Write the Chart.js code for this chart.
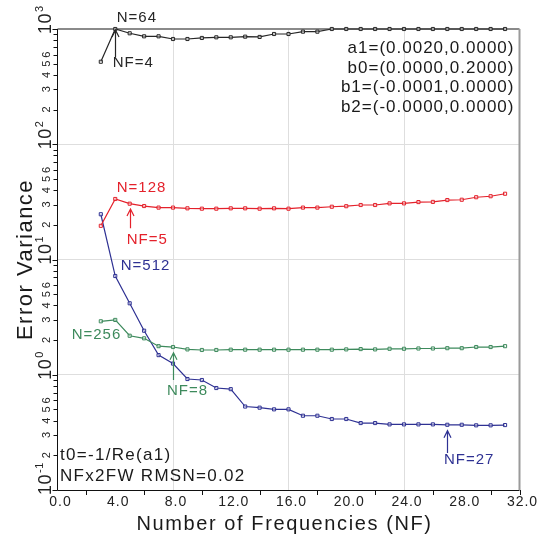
<!DOCTYPE html>
<html>
<head>
<meta charset="utf-8">
<script src="https://cdn.jsdelivr.net/npm/chart.js@4.4.0/dist/chart.umd.min.js"></script>
<style>
  html, body { margin: 0; padding: 0; background: #fff; }
  canvas { display: block; }
</style>
</head>
<body>
<canvas id="errChart" width="551" height="538"></canvas>
<script>
// Number of frequencies on the x axis
const nfValues = [3, 4, 5, 6, 7, 8, 9, 10, 11, 12, 13, 14, 15, 16, 17, 18, 19, 20, 21, 22, 23, 24, 25, 26, 27, 28, 29, 30, 31];

// Error variance for each record length N
const errN64 = [520, 1000, 918, 864, 864, 819, 819, 836, 847, 847, 858, 853, 905, 905, 948, 948, 1000, 1000, 1000, 1000, 1000, 1000, 1000, 1000, 1000, 1000, 1000, 1000, 1000];
const errN128 = [19.6, 33.5, 30.5, 29.1, 28.2, 28.2, 27.8, 27.6, 27.6, 27.8, 27.8, 27.6, 27.8, 27.6, 28.2, 28.2, 28.7, 29.0, 29.7, 29.7, 30.7, 30.7, 31.5, 31.6, 32.8, 33.0, 34.7, 35.4, 37.2];
const errN256 = [2.91, 2.99, 2.18, 2.07, 1.77, 1.74, 1.66, 1.64, 1.64, 1.65, 1.65, 1.65, 1.65, 1.65, 1.65, 1.65, 1.65, 1.66, 1.67, 1.66, 1.68, 1.68, 1.69, 1.69, 1.70, 1.70, 1.74, 1.74, 1.77];
const errN512 = [24.7, 7.19, 4.17, 2.41, 1.48, 1.25, 0.918, 0.90, 0.767, 0.75, 0.53, 0.518, 0.501, 0.501, 0.441, 0.441, 0.413, 0.413, 0.381, 0.381, 0.371, 0.371, 0.371, 0.371, 0.368, 0.368, 0.364, 0.364, 0.366];

// Axis ticks
const xTickLabels = [0, 4, 8, 12, 16, 20, 24, 28, 32];
const xMinorTicks = [2, 6, 10, 14, 18, 22, 26, 30, 32];
const xGridValues = [8, 16, 24];
const yDecades = [-1, 0, 1, 2, 3];
const yMinorLabels = [2, 3, 4, 5, 6];

// Text on the plot
const paramLines = ["a1=(0.0020,0.0000)", "b0=(0.0000,0.2000)", "b1=(-0.0001,0.0000)", "b2=(-0.0000,0.0000)"];
const footLines = ["t0=-1/Re(a1)", "NFx2FW RMSN=0.02"];

const RED = "#e4212b";
const BLUE = "#2e3193";
const GREEN = "#3d8a5c";
const BLACK = "#262626";

const toXY = (vals) => vals.map((v, i) => ({ x: nfValues[i], y: v }));

const series = (label, vals, color) => ({
  label: label,
  data: toXY(vals),
  borderColor: color,
  borderWidth: 1.2,
  pointStyle: "rect",
  pointRadius: 2.2,
  pointBorderWidth: 1,
  pointBorderColor: color,
  pointBackgroundColor: "rgba(255,255,255,0.45)",
  tension: 0,
  clip: 6,
});

// notes: [text, nf, value, color]
const notes = [
  ["N=64", 4.1, 1245, BLACK],
  ["NF=4", 3.82, 507, BLACK],
  ["N=128", 4.1, 41.7, RED],
  ["NF=5", 4.79, 14.8, RED],
  ["N=512", 4.38, 8.83, BLUE],
  ["N=256", 0.98, 2.21, GREEN],
  ["NF=8", 7.58, 0.723, GREEN],
  ["NF=27", 26.77, 0.182, BLUE],
];
// arrows: [nf, from value, to value, color]
const arrows = [
  [4, 572, 980, BLACK],
  [5, 18.7, 27.4, RED],
  [8, 0.90, 1.55, GREEN],
  [27, 0.209, 0.327, BLUE],
];
const paramValues = [684, 459, 314, 210];
const footValues = [0.201, 0.132];

const FONT = "'Liberation Sans', Arial, sans-serif";

function drawText(ctx, s, x, y, size, color, align, spacing) {
  ctx.save();
  ctx.font = size + "px " + FONT;
  ctx.fillStyle = color;
  ctx.textAlign = align;
  ctx.textBaseline = "middle";
  ctx.letterSpacing = spacing + "px";
  ctx.fillText(s, x, y);
  ctx.restore();
}

const framePlugin = {
  id: "frame",
  beforeDatasetsDraw(chart) {
    const { ctx, chartArea: a } = chart;
    ctx.save();
    ctx.strokeStyle = "#8a8a8a";
    ctx.lineWidth = 2;
    ctx.beginPath();
    ctx.moveTo(a.left, a.top);
    ctx.lineTo(a.right, a.top);
    ctx.stroke();
    ctx.strokeStyle = "#9a9a9a";
    ctx.beginPath();
    ctx.moveTo(a.right, a.top);
    ctx.lineTo(a.right, a.bottom);
    ctx.stroke();
    ctx.restore();
  },
  afterDraw(chart) {
    const { ctx, chartArea: a } = chart;
    const xs = chart.scales.x;
    const ys = chart.scales.y;
    ctx.save();
    ctx.strokeStyle = "#111";
    ctx.lineWidth = 1;

    // left and bottom axes
    ctx.beginPath();
    ctx.moveTo(a.left, a.top);
    ctx.lineTo(a.left, a.bottom + 0.5);
    ctx.lineTo(a.right, a.bottom + 0.5);
    ctx.stroke();

    // x ticks and labels
    ctx.beginPath();
    xMinorTicks.forEach((v) => {
      const x = Math.round(xs.getPixelForValue(v)) + 0.5;
      ctx.moveTo(x, a.bottom);
      ctx.lineTo(x, a.bottom + 5);
    });
    ctx.stroke();
    xTickLabels.forEach((v) => {
      drawText(ctx, v.toFixed(1), xs.getPixelForValue(v) + 3, a.bottom + 12, 14, "#222", "center", 1);
    });

    // y ticks
    ctx.beginPath();
    yDecades.forEach((k) => {
      const y = Math.round(ys.getPixelForValue(Math.pow(10, k))) + 0.5;
      ctx.moveTo(a.left - 5, y);
      ctx.lineTo(a.left, y);
      if (k < 3) {
        for (let m = 2; m <= 9; m++) {
          const ym = Math.round(ys.getPixelForValue(m * Math.pow(10, k))) + 0.5;
          ctx.moveTo(a.left - 4, ym);
          ctx.lineTo(a.left, ym);
        }
      }
    });
    ctx.stroke();

    // y labels, rotated
    ctx.fillStyle = "#222";
    yDecades.forEach((k) => {
      const y = ys.getPixelForValue(Math.pow(10, k));
      ctx.save();
      ctx.translate(a.left - 6.5, y);
      ctx.rotate(-Math.PI / 2);
      ctx.textAlign = "left";
      ctx.textBaseline = "alphabetic";
      ctx.font = "18px " + FONT;
      ctx.letterSpacing = "0.5px";
      ctx.fillText("10", -5, 0);
      const w = ctx.measureText("10").width;
      ctx.font = "11px " + FONT;
      ctx.fillText(String(k), -5 + w + 1, -8);
      ctx.restore();
      if (k < 3) {
        yMinorLabels.forEach((m) => {
          const ym = ys.getPixelForValue(m * Math.pow(10, k));
          ctx.save();
          ctx.translate(a.left - 7.5, ym);
          ctx.rotate(-Math.PI / 2);
          ctx.textAlign = "center";
          ctx.textBaseline = "alphabetic";
          ctx.font = "11px " + FONT;
          ctx.fillText(String(m), 0, 0);
          ctx.restore();
        });
      }
    });

    // axis titles
    drawText(ctx, "Number of Frequencies (NF)", (a.left + a.right) / 2 - 4, a.bottom + 34, 20, "#1a1a1a", "center", 1.6);
    ctx.save();
    ctx.translate(26, (a.top + a.bottom) / 2);
    ctx.rotate(-Math.PI / 2);
    drawText(ctx, "Error Variance", 0, 0, 22, "#1a1a1a", "center", 1.5);
    ctx.restore();

    // arrows
    arrows.forEach(([nf, v0, v1, color]) => {
      const x = Math.round(xs.getPixelForValue(nf)) + 0.5;
      const y0 = ys.getPixelForValue(v0);
      const y1 = ys.getPixelForValue(v1);
      ctx.save();
      ctx.strokeStyle = color;
      ctx.lineWidth = 1.2;
      ctx.beginPath();
      ctx.moveTo(x, y0);
      ctx.lineTo(x, y1);
      ctx.moveTo(x - 3.5, y1 + 7);
      ctx.lineTo(x, y1);
      ctx.lineTo(x + 3.5, y1 + 7);
      ctx.stroke();
      ctx.restore();
    });

    // notes
    notes.forEach(([s, nf, v, color]) => {
      drawText(ctx, s, xs.getPixelForValue(nf), ys.getPixelForValue(v), 15, color, "left", 1);
    });
    paramLines.forEach((s, i) => {
      drawText(ctx, s, xs.getPixelForValue(31.65), ys.getPixelForValue(paramValues[i]), 17, "#1a1a1a", "right", 1);
    });
    footLines.forEach((s, i) => {
      drawText(ctx, s, xs.getPixelForValue(0.17), ys.getPixelForValue(footValues[i]), 17, "#1a1a1a", "left", 1.3);
    });
    ctx.restore();
  },
};

const ctx = document.getElementById("errChart").getContext("2d");
new Chart(ctx, {
  type: "line",
  data: {
    datasets: [
      series("N=64", errN64, BLACK),
      series("N=128", errN128, RED),
      series("N=256", errN256, GREEN),
      series("N=512", errN512, BLUE),
    ],
  },
  options: {
    responsive: false,
    animation: false,
    devicePixelRatio: 1,
    layout: { padding: { left: 57.5, top: 29, right: 31.5, bottom: 48 } },
    plugins: { legend: { display: false }, tooltip: { enabled: false } },
    scales: {
      x: {
        type: "linear",
        min: 0,
        max: 32,
        afterBuildTicks: (scale) => {
          scale.ticks = xGridValues.map((v) => ({ value: v }));
        },
        ticks: { display: false },
        border: { display: false },
        grid: { color: "#dedede", lineWidth: 1, drawTicks: false },
      },
      y: {
        type: "logarithmic",
        min: 0.1,
        max: 1000,
        afterBuildTicks: (scale) => {
          scale.ticks = yDecades.filter((k) => k > -1 && k < 3).map((k) => ({ value: Math.pow(10, k) }));
        },
        ticks: { display: false },
        border: { display: false },
        grid: { color: "#dedede", lineWidth: 1, drawTicks: false },
      },
    },
  },
  plugins: [framePlugin],
});
</script>
</body>
</html>
